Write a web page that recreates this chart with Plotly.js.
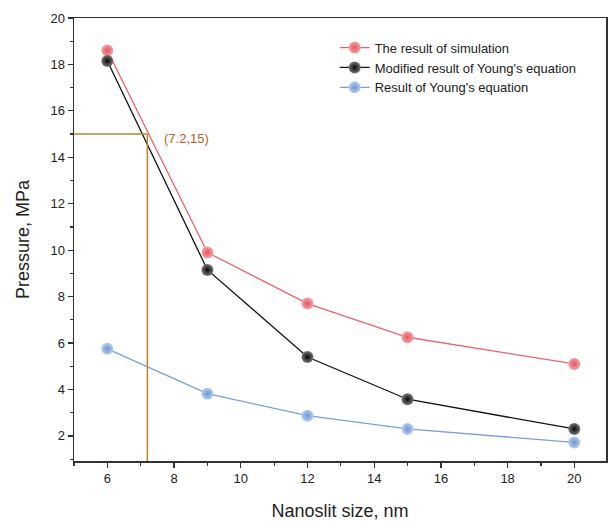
<!DOCTYPE html>
<html>
<head>
<meta charset="utf-8">
<script src="https://cdn.plot.ly/plotly-3.0.1.min.js"></script>
<style>html,body{margin:0;padding:0;background:#fff;}#chart{width:608px;height:521px;}</style>
</head>
<body>
<div id="chart"></div>
<script>
// Data
const nanoslitSize = [6, 9, 12, 15, 20];
const simulation = [18.6, 9.9, 7.7, 6.25, 5.1];
const modifiedYoung = [18.15, 9.15, 5.4, 3.58, 2.3];
const young = [5.75, 3.82, 2.87, 2.3, 1.72];
const seriesNames = ["The result of simulation", "Modified result of Young's equation", "Result of Young's equation"];
const guidePoint = {x: 7.2, y: 15};
const guideLabel = "(7.2,15)";

const xRange = [5, 20.95];
const yRange = [0.92, 20];

function series(y, name, lineColor, light, dark) {
  return {
    x: nanoslitSize, y: y, name: name, type: 'scatter', mode: 'lines+markers',
    line: {color: lineColor, width: 1.3},
    marker: {size: 12, color: light, gradient: {type: 'radial', color: dark}, line: {width: 0}}
  };
}

const traces = [
  series(simulation, seriesNames[0], '#e8646c', '#f3a2a7', '#e15660'),
  series(modifiedYoung, seriesNames[1], '#111111', '#777777', '#080808'),
  series(young, seriesNames[2], '#7aa0d8', '#b7cdee', '#6e96d2')
];

const guideColor = '#b5862d';
const layout = {
  width: 608, height: 521,
  margin: {l: 74, r: 2, t: 18, b: 60},
  paper_bgcolor: '#fff', plot_bgcolor: '#fff',
  font: {family: 'Liberation Sans, Arial, sans-serif', size: 13, color: '#222'},
  showlegend: true,
  legend: {x: 0.49, y: 0.967, xanchor: 'left', yanchor: 'top', bgcolor: 'rgba(0,0,0,0)',
           font: {size: 13, color: '#222'}, tracegroupgap: 0},
  xaxis: {
    range: xRange, tickvals: [6, 8, 10, 12, 14, 16, 18, 20],
    ticks: 'outside', ticklen: 5, tickwidth: 1.2, tickcolor: '#333',
    minor: {tickvals: [5, 7, 9, 11, 13, 15, 17, 19], ticks: 'outside', ticklen: 3, tickwidth: 1.2, tickcolor: '#333'},
    showline: true, linecolor: '#333', linewidth: 1.5, mirror: true,
    showgrid: false, zeroline: false,
    tickfont: {size: 13, color: '#222'},
    title: {text: 'Nanoslit size, nm', font: {size: 18, color: '#222'}, standoff: 20}
  },
  yaxis: {
    range: yRange, tickvals: [2, 4, 6, 8, 10, 12, 14, 16, 18, 20],
    ticks: 'outside', ticklen: 5, tickwidth: 1.2, tickcolor: '#333',
    minor: {tickvals: [1, 3, 5, 7, 9, 11, 13, 15, 17, 19], ticks: 'outside', ticklen: 3, tickwidth: 1.2, tickcolor: '#333'},
    showline: true, linecolor: '#333', linewidth: 1.5, mirror: true,
    showgrid: false, zeroline: false,
    tickfont: {size: 13, color: '#222'},
    title: {text: 'Pressure, MPa', font: {size: 18, color: '#222'}, standoff: 16}
  },
  shapes: [
    {type: 'line', xref: 'x', yref: 'y', x0: guidePoint.x, x1: guidePoint.x, y0: yRange[0], y1: guidePoint.y,
     line: {color: guideColor, width: 1.5}},
    {type: 'line', xref: 'x', yref: 'y', x0: xRange[0], x1: guidePoint.x, y0: guidePoint.y, y1: guidePoint.y,
     line: {color: guideColor, width: 1.5}}
  ],
  annotations: [
    {x: 7.65, y: 14.8, xref: 'x', yref: 'y', text: guideLabel, showarrow: false, xanchor: 'left', yanchor: 'middle',
     font: {size: 13, color: '#b5612c'}}
  ]
};

Plotly.newPlot('chart', traces, layout, {displayModeBar: false, staticPlot: true});
</script>
</body>
</html>
